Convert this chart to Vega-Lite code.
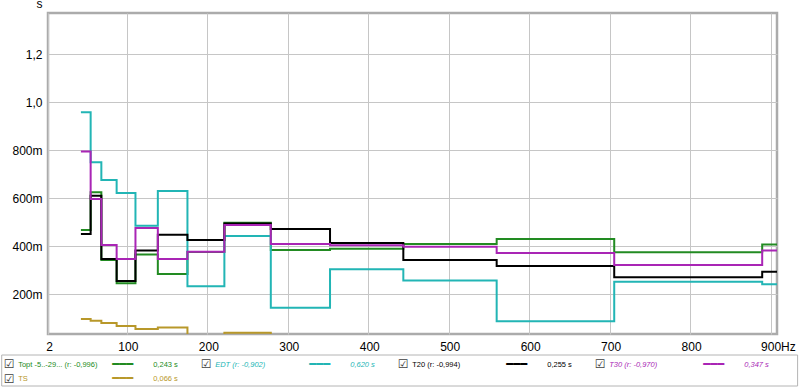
{
  "$schema": "https://vega.github.io/schema/vega-lite/v6.json",
  "background": "white",
  "padding": {"left": 1, "top": -4, "right": 0, "bottom": 0},
  "spacing": 0,
  "bounds": "full",
  "config": {"font": "Liberation Sans"},
  "resolve": {"scale": {"x": "independent", "y": "independent", "color": "shared"}},
  "datasets": {
    "bands": [
      {"f": 42.9, "Topt": 0.468, "EDT": 0.958, "T20": 0.451, "T30": 0.795, "TS": 0.097},
      {"f": 55.0, "Topt": 0.625, "EDT": 0.750, "T20": 0.611, "T30": 0.597, "TS": 0.090},
      {"f": 68.3, "Topt": 0.343, "EDT": 0.676, "T20": 0.347, "T30": 0.405, "TS": 0.080},
      {"f": 87.3, "Topt": 0.246, "EDT": 0.622, "T20": 0.255, "T30": 0.347, "TS": 0.068},
      {"f": 110.7, "Topt": 0.366, "EDT": 0.486, "T20": 0.382, "T30": 0.476, "TS": 0.055},
      {"f": 138.5, "Topt": 0.285, "EDT": 0.630, "T20": 0.448, "T30": 0.347, "TS": 0.062},
      {"f": 175.3, "Topt": 0.376, "EDT": 0.234, "T20": 0.426, "T30": 0.377, "TS": 0.02},
      {"f": 221.2, "Topt": 0.498, "EDT": 0.443, "T20": 0.495, "T30": 0.489, "TS": 0.040},
      {"f": 278.9, "Topt": 0.385, "EDT": 0.144, "T20": 0.472, "T30": 0.410, "TS": 0.02},
      {"f": 352.5, "Topt": 0.390, "EDT": 0.304, "T20": 0.414, "T30": 0.404, "TS": 0.02},
      {"f": 443.6, "Topt": 0.410, "EDT": 0.257, "T20": 0.343, "T30": 0.398, "TS": 0.02},
      {"f": 559.6, "Topt": 0.430, "EDT": 0.0875, "T20": 0.318, "T30": 0.372, "TS": 0.02},
      {"f": 705.7, "Topt": 0.375, "EDT": 0.2525, "T20": 0.271, "T30": 0.322, "TS": 0.02},
      {"f": 889.6, "Topt": 0.408, "EDT": 0.242, "T20": 0.294, "T30": 0.382, "TS": 0.02},
      {"f": 908, "Topt": 0.408, "EDT": 0.242, "T20": 0.294, "T30": 0.382, "TS": 0.02}
    ],
    "legend": [
      {"series": "Topt", "col": 0, "row": 0, "name": "Topt -5..-29... (r: -0,996)", "val": "0,243 s"},
      {"series": "EDT", "col": 1, "row": 0, "name": "EDT (r: -0,902)", "val": "0,620 s"},
      {"series": "T20", "col": 2, "row": 0, "name": "T20 (r: -0,994)", "val": "0,255 s"},
      {"series": "T30", "col": 3, "row": 0, "name": "T30 (r: -0,970)", "val": "0,347 s"},
      {"series": "TS", "col": 0, "row": 1, "name": "TS", "val": "0,066 s"}
    ]
  },
  "vconcat": [
    {
      "width": 729,
      "height": 321,
      "view": {"stroke": "#ababab", "strokeWidth": 2.5},
      "data": {"name": "bands"},
      "transform": [{"fold": ["Topt", "EDT", "T20", "T30", "TS"], "as": ["series", "v"]}],
      "mark": {"type": "line", "interpolate": "step-after", "clip": true, "strokeWidth": 2},
      "encoding": {
        "x": {
          "field": "f", "type": "quantitative",
          "scale": {"domain": [2, 908], "nice": false, "zero": false},
          "axis": {
            "values": [2, 100, 200, 300, 400, 500, 600, 700, 800, 900],
            "title": null, "grid": true, "gridColor": "#c6c6c6", "gridWidth": 1,
            "domain": false, "ticks": false, "tickSize": 0,
            "labelFont": "Liberation Sans", "labelFontSize": 12, "labelColor": "#000000",
            "labelPadding": 7, "labelFlush": false, "labelOverlap": false,
            "labelExpr": "datum.value == 900 ? '900Hz' : datum.label",
            "labelAlign": {"condition": {"test": "datum.value == 900", "value": "left"}, "value": "center"},
            "labelOffset": {"condition": {"test": "datum.value == 900", "value": -10}, "value": 1}
          }
        },
        "y": {
          "field": "v", "type": "quantitative",
          "scale": {"domain": [0.0346, 1.372], "nice": false, "zero": false},
          "axis": {
            "values": [0.2, 0.4, 0.6, 0.8, 1.0, 1.2],
            "title": "s", "titleAngle": 0, "titleX": -9, "titleY": -5.5,
            "titleAlign": "center", "titleBaseline": "alphabetic",
            "titleFont": "Liberation Sans", "titleFontSize": 12, "titleFontWeight": "normal", "titleColor": "#000000",
            "grid": true, "gridColor": "#c6c6c6", "gridWidth": 1,
            "domain": false, "ticks": false, "tickSize": 0,
            "labelFont": "Liberation Sans", "labelFontSize": 12, "labelColor": "#000000",
            "labelPadding": 6, "minExtent": 44.3, "labelOverlap": false,
            "labelExpr": "datum.value < 0.99 ? format(datum.value * 1000, 'd') + 'm' : replace(format(datum.value, '.1f'), '.', ',')"
          }
        },
        "color": {
          "field": "series", "type": "nominal",
          "scale": {"domain": ["Topt", "EDT", "T20", "T30", "TS"], "range": ["#228b22", "#22b5b5", "#000000", "#a925b5", "#b8982a"]},
          "legend": null
        }
      }
    },
    {
      "width": 750,
      "height": 31,
      "view": {"stroke": null},
      "data": {"name": "legend"},
      "layer": [
        {
          "data": {"values": [{"box": "legend"}]},
          "mark": {"type": "rect", "fill": null, "stroke": "#b4b4b4", "strokeWidth": 1},
          "encoding": {
            "x": {"datum": -0.235, "type": "quantitative", "scale": {"domain": [0, 3.807], "nice": false, "zero": false}, "axis": null},
            "x2": {"datum": 3.805}
          }
        },
        {
          "mark": {"type": "text", "text": "☑", "font": "DejaVu Sans", "fontSize": 12, "align": "center", "baseline": "middle", "dx": -38.8, "dy": 1, "color": "#404040"},
          "encoding": {
            "x": {"field": "col", "type": "quantitative", "axis": null},
            "y": {"field": "row", "type": "ordinal", "scale": {"type": "point", "padding": 0.56}, "axis": null}
          }
        },
        {
          "transform": [{"filter": "datum.series != 'EDT' && datum.series != 'T30'"}],
          "mark": {"type": "text", "font": "Liberation Sans", "fontSize": 7.5, "align": "left", "baseline": "middle", "dx": -29.8, "dy": 1.5},
          "encoding": {
            "x": {"field": "col", "type": "quantitative", "axis": null},
            "y": {"field": "row", "type": "ordinal", "axis": null},
            "text": {"field": "name"},
            "color": {"field": "series", "type": "nominal", "legend": null}
          }
        },
        {
          "transform": [{"filter": "datum.series == 'EDT' || datum.series == 'T30'"}],
          "mark": {"type": "text", "font": "Liberation Sans", "fontSize": 7.5, "fontStyle": "italic", "align": "left", "baseline": "middle", "dx": -29.8, "dy": 1.5},
          "encoding": {
            "x": {"field": "col", "type": "quantitative", "axis": null},
            "y": {"field": "row", "type": "ordinal", "axis": null},
            "text": {"field": "name"},
            "color": {"field": "series", "type": "nominal", "legend": null}
          }
        },
        {
          "mark": {"type": "text", "text": "━━━", "font": "DejaVu Sans Mono", "fontSize": 11.6, "align": "left", "baseline": "middle", "dx": 64.2, "dy": 1.5},
          "encoding": {
            "x": {"field": "col", "type": "quantitative", "axis": null},
            "y": {"field": "row", "type": "ordinal", "axis": null},
            "color": {"field": "series", "type": "nominal", "legend": null}
          }
        },
        {
          "transform": [{"filter": "datum.series != 'EDT' && datum.series != 'T30'"}],
          "mark": {"type": "text", "font": "Liberation Sans", "fontSize": 7.5, "align": "left", "baseline": "middle", "dx": 105.2, "dy": 1.5},
          "encoding": {
            "x": {"field": "col", "type": "quantitative", "axis": null},
            "y": {"field": "row", "type": "ordinal", "axis": null},
            "text": {"field": "val"},
            "color": {"field": "series", "type": "nominal", "legend": null}
          }
        },
        {
          "transform": [{"filter": "datum.series == 'EDT' || datum.series == 'T30'"}],
          "mark": {"type": "text", "font": "Liberation Sans", "fontSize": 7.5, "fontStyle": "italic", "align": "left", "baseline": "middle", "dx": 105.2, "dy": 1.5},
          "encoding": {
            "x": {"field": "col", "type": "quantitative", "axis": null},
            "y": {"field": "row", "type": "ordinal", "axis": null},
            "text": {"field": "val"},
            "color": {"field": "series", "type": "nominal", "legend": null}
          }
        }
      ]
    }
  ]
}
